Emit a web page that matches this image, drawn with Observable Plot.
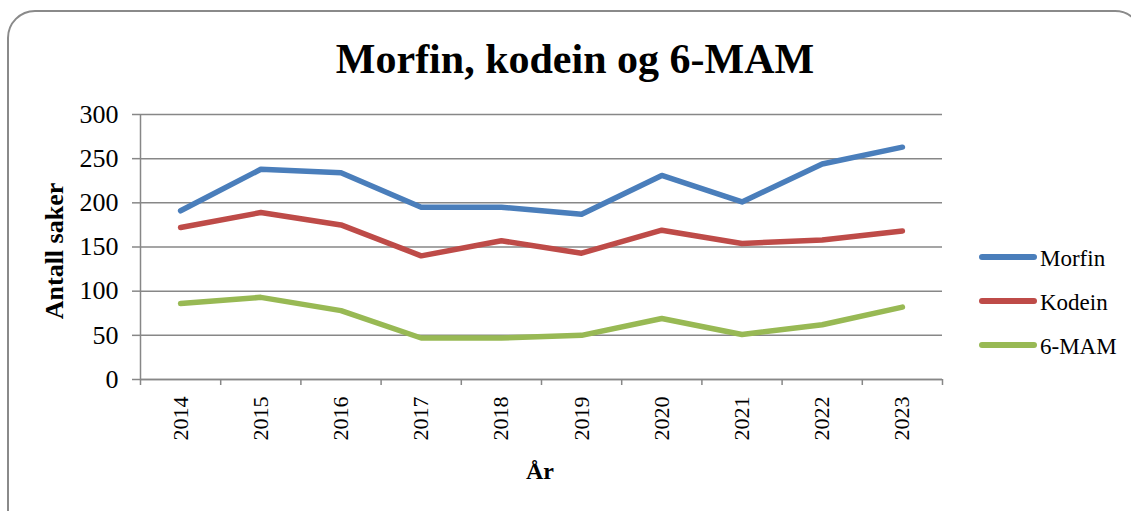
<!DOCTYPE html>
<html>
<head>
<meta charset="utf-8">
<script src="https://cdn.jsdelivr.net/npm/d3@7"></script>
<script src="https://cdn.jsdelivr.net/npm/@observablehq/plot@0.6"></script>
<style>
  html, body { margin: 0; padding: 0; background: #fff; }
  body { width: 1131px; height: 511px; overflow: hidden; position: relative; }
  #frame { position: absolute; left: 7px; top: 10px; width: 1136px; height: 530px;
           border: 2px solid #8a8a8a; border-radius: 28px; box-sizing: border-box; }
  #chart, #overlay { position: absolute; left: 0; top: 0; }
  #overlay { pointer-events: none; }
  svg text { font-family: "Liberation Serif", "Times New Roman", serif; }
</style>
</head>
<body>
<div id="frame"></div>
<div id="chart"></div>
<svg id="overlay" width="1131" height="511"></svg>
<script>
// ---- data ----
const title = "Morfin, kodein og 6-MAM";
const xLabel = "År";
const yLabel = "Antall saker";
const years = [2014, 2015, 2016, 2017, 2018, 2019, 2020, 2021, 2022, 2023];
const seriesNames = ["Morfin", "Kodein", "6-MAM"];
const morfin = [191, 238, 234, 195, 195, 187, 231, 201, 244, 263];
const kodein = [172, 189, 175, 140, 157, 143, 169, 154, 158, 168];
const mam6   = [86, 93, 78, 47, 47, 50, 69, 51, 62, 82];
const yTicks = [0, 50, 100, 150, 200, 250, 300];
const colors = ["#4a7ebb", "#be4b48", "#98b954"];

const seriesValues = [morfin, kodein, mam6];
const table = seriesNames.flatMap((s, i) =>
  years.map((yr, j) => ({series: s, year: yr, value: seriesValues[i][j]})));

const x0 = d3.min(years) - 0.5, x1 = d3.max(years) + 0.5;
const boundaries = d3.range(years.length + 1).map(i => x0 + i);
const gridColor = "#878787";
const font = '"Liberation Serif", "Times New Roman", serif';

const chart = Plot.plot({
  width: 1131,
  height: 511,
  marginLeft: 140,
  marginRight: 189,
  marginTop: 114,
  marginBottom: 132,
  style: {fontFamily: font, background: "transparent", color: "#000", overflow: "visible"},
  x: {domain: [x0, x1]},
  y: {domain: [d3.min(yTicks), d3.max(yTicks)]},
  color: {domain: seriesNames, range: colors},
  marks: [
    Plot.gridY(yTicks, {stroke: gridColor, strokeOpacity: 1, strokeWidth: 1.5}),
    Plot.ruleY([d3.min(yTicks)], {stroke: gridColor, strokeWidth: 1.5}),
    Plot.ruleX([x0], {stroke: gridColor, strokeWidth: 1.5}),
    Plot.axisY(yTicks, {tickSize: 8, tickPadding: 14, stroke: gridColor, strokeWidth: 1.5,
                        color: "#000", fontSize: 26, label: null}),
    Plot.axisX(boundaries, {tickSize: 6, tickFormat: () => "", stroke: gridColor,
                            strokeWidth: 1.5, label: null}),
    Plot.axisX(years, {tickSize: 0, tickPadding: 17, tickRotate: -90, tickFormat: d => String(d),
                       color: "#000", fontSize: 22, label: null}),
    Plot.lineY(table, {x: "year", y: "value", z: "series", stroke: "series",
                       strokeWidth: 5.5, strokeLinecap: "round", strokeLinejoin: "round"})
  ]
});
document.getElementById("chart").appendChild(chart);

// ---- title, axis labels, legend ----
const ov = d3.select("#overlay");
ov.append("text").attr("x", 575).attr("y", 73).attr("text-anchor", "middle")
  .attr("font-size", 42).attr("font-weight", "bold").text(title);
ov.append("text").attr("transform", "translate(63,251) rotate(-90)").attr("text-anchor", "middle")
  .attr("font-size", 26).attr("font-weight", "bold").text(yLabel);
ov.append("text").attr("x", 540).attr("y", 479).attr("text-anchor", "middle")
  .attr("font-size", 24).attr("font-weight", "bold").text(xLabel);
const lg = ov.append("g");
seriesNames.forEach((s, i) => {
  const cy = 257 + i * 44;
  lg.append("line").attr("x1", 982).attr("x2", 1034).attr("y1", cy).attr("y2", cy)
    .attr("stroke", chart.scale("color").apply(s)).attr("stroke-width", 6).attr("stroke-linecap", "round");
  lg.append("text").attr("x", 1040).attr("y", cy + 8.5).attr("font-size", 23).text(s);
});
</script>
</body>
</html>
